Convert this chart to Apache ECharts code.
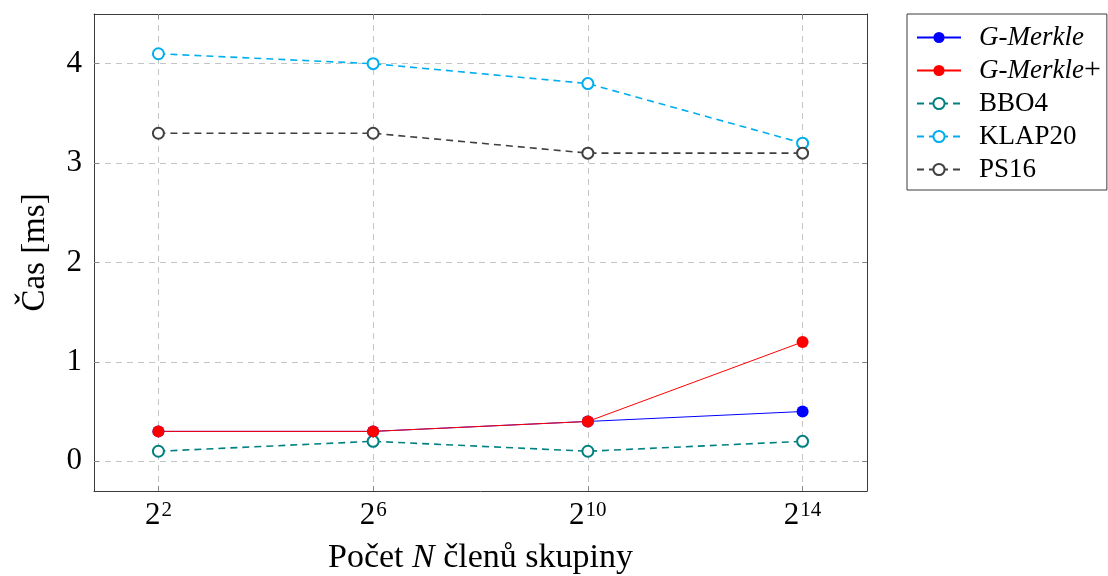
<!DOCTYPE html>
<html><head><meta charset="utf-8">
<script src="https://cdn.jsdelivr.net/npm/echarts@6/dist/echarts.min.js"></script>
<style>html,body{margin:0;padding:0;background:#fff}#c{width:1108px;height:576px}</style>
</head><body><div id="c"></div>
<script>
const exponents = [2, 6, 10, 14];
const gMerkle = [0.3, 0.3, 0.4, 0.5];
const gMerklePlus = [0.3, 0.3, 0.4, 1.2];
const bbo4 = [0.1, 0.2, 0.1, 0.2];
const klap20 = [4.1, 4.0, 3.8, 3.2];
const ps16 = [3.3, 3.3, 3.1, 3.1];
const yTicks = [0, 1, 2, 3, 4];
const names = ['G-Merkle', 'G-Merkle+', 'BBO4', 'KLAP20', 'PS16'];

const FONT = '"Liberation Serif", "DejaVu Serif", serif';
const pts = vals => exponents.map((e, i) => [e, vals[i]]);
const gridLine = { show: true, lineStyle: { color: '#c4c4c4', type: [6, 5], width: 1 } };
const frame = { show: true, onZero: false, lineStyle: { color: '#3a3a3a', width: 1 } };
const tick = { inside: true, length: 5, lineStyle: { color: '#888' } };

function mk(name, vals, color, dashed, filled) {
  return {
    name, type: 'line', data: pts(vals),
    symbol: filled ? 'circle' : 'emptyCircle',
    symbolSize: filled ? 12 : 11,
    showAllSymbol: true,
    lineStyle: { color, width: dashed ? 1.6 : 1, type: dashed ? [7, 5] : 'solid' },
    itemStyle: { color, borderColor: color, borderWidth: filled ? 0 : 1.8 },
    emphasis: { disabled: true },
    animation: false,
    z: filled ? 5 : 3
  };
}

const legendRich = {
  i: { fontFamily: FONT, fontSize: 27, fontStyle: 'italic', color: '#000', lineHeight: 33 },
  r: { fontFamily: FONT, fontSize: 27, color: '#000', lineHeight: 33 },
  p: { fontFamily: FONT, fontSize: 30, color: '#000', lineHeight: 33 }
};

const chart = echarts.init(document.getElementById('c'), null, { renderer: 'canvas' });
chart.setOption({
  animation: false,
  textStyle: { fontFamily: FONT },
  grid: { left: 94, right: 241, top: 14, bottom: 85, show: false, outerBoundsMode: 'none', containLabel: false },
  xAxis: [{
    type: 'value', min: 0.8, max: 15.2, position: 'bottom',
    axisLine: frame,
    axisTick: Object.assign({ customValues: exponents }, tick),
    splitLine: gridLine,
    axisLabel: {
      customValues: exponents, margin: 9,
      formatter: v => '{b|2}{s|' + v + '}',
      rich: {
        b: { fontFamily: FONT, fontSize: 31, color: '#000', verticalAlign: 'top', lineHeight: 36 },
        s: { fontFamily: FONT, fontSize: 21, color: '#000', verticalAlign: 'top', lineHeight: 26, padding: [0, 0, 0, 1] }
      }
    },
    name: '{r|Počet }{i|N}{r| členů skupiny}',
    nameLocation: 'middle', nameGap: 50,
    nameTextStyle: {
      rich: {
        r: { fontFamily: FONT, fontSize: 34, color: '#000' },
        i: { fontFamily: FONT, fontSize: 34, color: '#000', fontStyle: 'italic' }
      }
    }
  }, {
    type: 'value', min: 0.8, max: 15.2, position: 'top',
    axisLine: frame,
    axisTick: Object.assign({ customValues: exponents }, tick),
    axisLabel: { show: false }, splitLine: { show: false }
  }],
  yAxis: [{
    type: 'value', min: -0.3, max: 4.5, position: 'left',
    axisLine: frame,
    axisTick: Object.assign({ customValues: yTicks }, tick),
    splitLine: gridLine,
    axisLabel: { customValues: yTicks, fontSize: 31, color: '#000', fontFamily: FONT, margin: 12 },
    name: 'Čas [ms]', nameLocation: 'middle', nameGap: 42, nameRotate: 90,
    nameTextStyle: { fontSize: 33, color: '#000', fontFamily: FONT }
  }, {
    type: 'value', min: -0.3, max: 4.5, position: 'right',
    axisLine: frame,
    axisTick: Object.assign({ customValues: yTicks }, tick),
    axisLabel: { show: false }, splitLine: { show: false }
  }],
  legend: {
    data: names, orient: 'vertical', left: 907, top: 14,
    borderColor: '#3a3a3a', borderWidth: 1, padding: [7, 6, 4, 9],
    itemGap: 0, itemWidth: 44, itemHeight: 14,
    formatter: n => n.startsWith('G-Merkle') ? '{i|G-Merkle}' + (n.endsWith('+') ? '{p|+}' : '') : '{r|' + n + '}',
    textStyle: {
      fontFamily: FONT, fontSize: 27, color: '#000', lineHeight: 33, padding: [0, 0, 0, 13],
      rich: legendRich
    }
  },
  series: [
    mk('BBO4', bbo4, '#008080', true, false),
    mk('KLAP20', klap20, '#00aeef', true, false),
    mk('PS16', ps16, '#404040', true, false),
    mk('G-Merkle', gMerkle, '#0000ff', false, true),
    mk('G-Merkle+', gMerklePlus, '#ff0000', false, true)
  ]
});
</script></body></html>
